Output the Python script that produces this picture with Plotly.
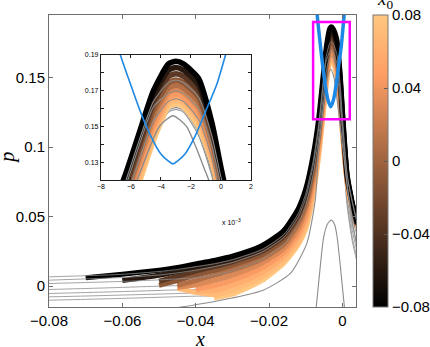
import plotly.graph_objects as go
from plotly.colors import sample_colorscale

# ---------------- data ----------------
X_GRID = [-0.080, -0.070, -0.060, -0.050, -0.045, -0.040, -0.035, -0.030, -0.022, -0.016,
          -0.012, -0.010, -0.008, -0.0065, -0.0055, -0.0045, -0.0035, -0.003, -0.0025,
          -0.0015, -0.0006, 0.0, 0.0013, 0.0027, 0.004]

# x0 value of each coloured trajectory
X0_VALUES = [-0.08, -0.06, -0.035, -0.01, 0.01, 0.03, 0.045, 0.06, 0.07, 0.08]

N = None
P_C1 = [N, 0.0060, 0.0085, 0.0115, 0.0135, 0.0160, 0.0185, 0.0215, 0.0290, 0.0400, 0.0560, 0.0700, 0.0940, 0.1200, 0.1450, 0.1700, 0.1850, 0.1865, 0.1850, 0.1770, 0.1520, 0.1270, 0.0800, 0.0600, 0.0450]
P_C2 = [N, N, 0.0040, 0.0078, 0.0105, 0.0135, 0.0163, 0.0195, 0.0270, 0.0378, 0.0533, 0.0672, 0.0905, 0.1165, 0.1415, 0.1665, 0.1815, 0.1830, 0.1815, 0.1735, 0.1495, 0.1250, 0.0790, 0.0595, 0.0447]
P_C3 = [N, N, N, 0.0035, 0.0072, 0.0108, 0.0140, 0.0175, 0.0250, 0.0357, 0.0510, 0.0645, 0.0875, 0.1135, 0.1385, 0.1630, 0.1780, 0.1795, 0.1780, 0.1700, 0.1470, 0.1230, 0.0780, 0.0590, 0.0445]
P_C4 = [N, N, N, 0.0005, 0.0040, 0.0078, 0.0112, 0.0150, 0.0225, 0.0330, 0.0480, 0.0615, 0.0845, 0.1105, 0.1350, 0.1595, 0.1745, 0.1760, 0.1745, 0.1665, 0.1440, 0.1205, 0.0775, 0.0585, 0.0443]
P_C5 = [N, N, N, N, 0.0005, 0.0040, 0.0078, 0.0115, 0.0195, 0.0300, 0.0450, 0.0580, 0.0810, 0.1075, 0.1320, 0.1565, 0.1715, 0.1730, 0.1715, 0.1635, 0.1410, 0.1180, 0.0770, 0.0580, 0.0440]
P_C6 = [N, N, N, N, -0.0010, 0.0010, 0.0042, 0.0080, 0.0165, 0.0270, 0.0415, 0.0545, 0.0775, 0.1045, 0.1290, 0.1535, 0.1690, 0.1705, 0.1690, 0.1605, 0.1385, 0.1160, 0.0765, 0.0570, 0.0435]
P_C7 = [N, N, N, N, N, -0.0020, 0.0005, 0.0042, 0.0130, 0.0240, 0.0380, 0.0505, 0.0735, 0.1010, 0.1255, 0.1500, 0.1665, 0.1680, 0.1665, 0.1575, 0.1360, 0.1140, 0.0760, 0.0565, 0.0432]
P_C8 = [N, N, N, N, N, -0.0035, -0.0030, 0.0005, 0.0095, 0.0210, 0.0350, 0.0470, 0.0700, 0.0980, 0.1225, 0.1470, 0.1645, 0.1660, 0.1645, 0.1550, 0.1335, 0.1125, 0.0755, 0.0560, 0.0428]
P_C9 = [N, N, N, N, -0.0015, -0.0045, -0.0062, -0.0030, 0.0065, 0.0185, 0.0320, 0.0440, 0.0670, 0.0950, 0.1195, 0.1445, 0.1630, 0.1645, 0.1630, 0.1525, 0.1315, 0.1110, 0.0750, 0.0555, 0.0425]
P_C10 = [N, N, N, N, N, N, -0.0085, -0.0058, 0.0040, 0.0165, 0.0300, 0.0410, 0.0650, 0.0930, 0.1170, 0.1420, 0.1610, 0.1625, 0.1610, 0.1500, 0.1300, 0.1100, 0.0745, 0.0550, 0.0420]
COLORED = [P_C1, P_C2, P_C3, P_C4, P_C5, P_C6, P_C7, P_C8, P_C9, P_C10]

# grey trajectories on the same grid
P_GA = [0.0067, 0.0075, 0.0085, 0.0105, 0.0120, 0.0140, 0.0160, 0.0190, 0.0262, 0.0370, 0.0525, 0.0665, 0.0895, 0.1160, 0.1410, 0.1640, 0.1745, 0.1760, 0.1745, 0.1665, 0.1445, 0.1215, 0.0800, 0.0610, 0.0460]
P_GB = [0.0043, 0.0052, 0.0062, 0.0080, 0.0095, 0.0115, 0.0140, 0.0170, 0.0245, 0.0350, 0.0500, 0.0635, 0.0865, 0.1130, 0.1380, 0.1610, 0.1685, 0.1700, 0.1685, 0.1600, 0.1390, 0.1170, 0.0790, 0.0600, 0.0455]
P_GC = [0.0019, 0.0026, 0.0034, 0.0045, 0.0052, 0.0060, 0.0080, 0.0110, 0.0190, 0.0300, 0.0450, 0.0580, 0.0800, 0.1060, 0.1300, 0.1530, 0.1640, 0.1655, 0.1640, 0.1540, 0.1320, 0.1100, 0.0720, 0.0500, 0.0360]
P_GD = [-0.0024, -0.0017, -0.0009, 0.0000, 0.0004, 0.0010, 0.0020, 0.0060, 0.0150, 0.0270, 0.0410, 0.0540, 0.0760, 0.1020, 0.1260, 0.1500, 0.1620, 0.1635, 0.1620, 0.1510, 0.1290, 0.1070, 0.0680, 0.0440, 0.0300]
P_GE = [-0.0053, -0.0046, -0.0039, -0.0031, -0.0027, -0.0023, -0.0015, 0.0020, 0.0110, 0.0230, 0.0370, 0.0490, 0.0720, 0.0990, 0.1230, 0.1470, 0.1600, 0.1615, 0.1600, 0.1490, 0.1260, 0.1040, 0.0640, 0.0400, 0.0250]
P_GF = [-0.0077, -0.0071, -0.0064, -0.0057, -0.0053, -0.0049, -0.0045, -0.0020, 0.0070, 0.0190, 0.0330, 0.0450, 0.0680, 0.0960, 0.1200, 0.1440, 0.1590, 0.1605, 0.1590, 0.1470, 0.1240, 0.1010, 0.0600, 0.0350, 0.0200]
P_GG = [-0.0101, -0.0095, -0.0088, -0.0080, -0.0076, -0.0072, -0.0070, -0.0050, 0.0040, 0.0170, 0.0310, 0.0420, 0.0650, 0.0930, 0.1170, 0.1410, 0.1580, 0.1595, 0.1580, 0.1450, 0.1220, 0.0990, 0.0570, 0.0320, 0.0170]
GREY_ON_GRID = [P_GA, P_GB, P_GC, P_GD, P_GE, P_GF, P_GG]

# lowest separate grey trajectory (peak ~0.156)
X_G1 = [-0.050, -0.0408, -0.030, -0.0216, -0.0142, -0.0097, -0.0074, -0.0065, -0.0054, -0.0041, -0.0032, -0.0023, -0.0010, 0.0003, 0.0014, 0.0026, 0.0040]
P_G1 = [-0.0175, -0.0137, -0.0085, -0.0029, 0.0091, 0.0308, 0.0620, 0.0980, 0.1240, 0.1500, 0.1560, 0.1500, 0.1240, 0.0950, 0.0700, 0.0480, 0.0280]

# small grey hump (peak ~0.047)
X_G0 = [-0.0074, -0.0065, -0.0051, -0.0040, -0.0030, -0.0021, -0.00145, -0.0001, 0.0008]
P_G0 = [-0.022, 0.002, 0.0355, 0.045, 0.0475, 0.044, 0.0355, 0.002, -0.022]

# blue curve
X_BLUE = [-0.0075, -0.0067, -0.0060, -0.0054, -0.0047, -0.0040, -0.0035, -0.0032, -0.0029, -0.0024, -0.0017, -0.0010, -0.0003, 0.0003, 0.0011]
P_BLUE = [0.215, 0.190, 0.173, 0.159, 0.145, 0.1345, 0.1305, 0.1290, 0.1305, 0.1345, 0.145, 0.159, 0.173, 0.190, 0.215]

# zoom window (magenta box / inset range)
ZOOM_X = [-0.008, 0.002]
ZOOM_Y = [0.12, 0.19]

# tick labels
MAIN_XTICKS = [-0.08, -0.06, -0.04, -0.02, 0.0]
MAIN_XTICKTEXT = ["\u22120.08", "\u22120.06", "\u22120.04", "\u22120.02", "0"]
MAIN_YTICKS = [0.0, 0.05, 0.1, 0.15]
MAIN_YTICKTEXT = ["0", "0.05", "0.1", "0.15"]
INSET_XTICKS = [-0.008, -0.006, -0.004, -0.002, 0.0, 0.002]
INSET_XTICKTEXT = ["\u22128", "\u22126", "\u22124", "\u22122", "0", "2"]
INSET_YTICKS = [0.12, 0.13, 0.14, 0.15, 0.16, 0.17, 0.18, 0.19]
INSET_YTICKTEXT = ["", "0.13", "", "0.15", "", "0.17", "", "0.19"]
CBAR_TICKS = [-0.08, -0.04, 0.0, 0.04, 0.08]
CBAR_TICKTEXT = ["\u22120.08", "\u22120.04", "0", "0.04", "0.08"]

# ---------------- styling ----------------
COPPER = [[0.0, "rgb(0,0,0)"], [0.8, "rgb(255,159,101)"], [1.0, "rgb(255,199,127)"]]
CMIN, CMAX = -0.08, 0.08
GREY = "rgb(140,140,140)"
BLUE = "rgb(30,136,229)"
FONT = "Liberation Sans, Arial, sans-serif"
SERIF = "Liberation Serif, Times New Roman, serif"


def clean(xs, ys):
    pts = [(a, b) for a, b in zip(xs, ys) if b is not None]
    return [p[0] for p in pts], [p[1] for p in pts]


fig = go.Figure()

for axes, cw, gw, bw in [(("x", "y"), 5.0, 0.8, 3.5), (("x2", "y2"), 5.5, 1.1, 1.6)]:
    xa, ya = axes
    # grey trajectories underneath
    for vals in GREY_ON_GRID[3:]:
        xs, ys = clean(X_GRID, vals)
        fig.add_trace(go.Scatter(x=xs, y=ys, mode="lines", xaxis=xa, yaxis=ya,
                                 line=dict(color=GREY, width=gw, shape="spline", smoothing=0.6),
                                 showlegend=False, hoverinfo="skip"))
    # coloured trajectories (lightest first, darkest on top)
    for vals, x0 in reversed(list(zip(COLORED, X0_VALUES))):
        t = (x0 - CMIN) / (CMAX - CMIN)
        col = sample_colorscale(COPPER, [t])[0]
        xs, ys = clean(X_GRID, vals)
        fig.add_trace(go.Scatter(x=xs, y=ys, mode="lines", xaxis=xa, yaxis=ya,
                                 line=dict(color=col, width=cw, shape="spline", smoothing=0.6),
                                 showlegend=False, hoverinfo="skip"))
    # grey trajectories visible through the band
    for vals in GREY_ON_GRID[:3]:
        xs, ys = clean(X_GRID, vals)
        fig.add_trace(go.Scatter(x=xs, y=ys, mode="lines", xaxis=xa, yaxis=ya,
                                 line=dict(color=GREY, width=gw, shape="spline", smoothing=0.6),
                                 showlegend=False, hoverinfo="skip"))
    fig.add_trace(go.Scatter(x=X_G1, y=P_G1, mode="lines", xaxis=xa, yaxis=ya,
                             line=dict(color=GREY, width=gw + 0.3, shape="spline", smoothing=0.6),
                             showlegend=False, hoverinfo="skip"))
    fig.add_trace(go.Scatter(x=X_G0, y=P_G0, mode="lines", xaxis=xa, yaxis=ya,
                             line=dict(color=GREY, width=gw + 0.3, shape="spline", smoothing=0.6),
                             showlegend=False, hoverinfo="skip"))
    fig.add_trace(go.Scatter(x=X_BLUE, y=P_BLUE, mode="lines", xaxis=xa, yaxis=ya,
                             line=dict(color=BLUE, width=bw, shape="spline", smoothing=0.6),
                             showlegend=False, hoverinfo="skip"))

# colour bar carrier
fig.add_trace(go.Scatter(x=[None], y=[None], mode="markers", showlegend=False, hoverinfo="skip",
                         marker=dict(color=X0_VALUES[:1], colorscale=COPPER, cmin=CMIN, cmax=CMAX,
                                     showscale=True,
                                     colorbar=dict(x=1.055, xanchor="left", y=0.5, yanchor="middle",
                                                   len=1.0, lenmode="fraction", thickness=15,
                                                   outlinecolor="rgb(120,120,120)", outlinewidth=1,
                                                   tickvals=CBAR_TICKS, ticktext=CBAR_TICKTEXT,
                                                   ticks="inside", ticklen=4, tickcolor="rgb(90,90,90)",
                                                   xpad=0, ypad=0,
                                                   tickfont=dict(size=15, color="black", family=FONT)))))

# magenta zoom box
fig.add_shape(type="rect", xref="x", yref="y", x0=ZOOM_X[0], x1=ZOOM_X[1], y0=ZOOM_Y[0], y1=ZOOM_Y[1],
              line=dict(color="rgb(255,0,255)", width=2.5))

axis_common = dict(showline=True, mirror="allticks", ticks="inside", showgrid=False, zeroline=False)

fig.update_layout(
    width=430, height=347,
    margin=dict(l=49, r=74, t=15, b=40, autoexpand=False),
    paper_bgcolor="white", plot_bgcolor="white",
    font=dict(family=FONT, color="black"),
    xaxis=dict(range=[-0.08, 0.0037], domain=[0, 1], tickvals=MAIN_XTICKS, ticktext=MAIN_XTICKTEXT,
               linecolor="rgb(110,110,110)", linewidth=1, ticklen=4, tickcolor="rgb(110,110,110)",
               tickfont=dict(size=15), **axis_common),
    yaxis=dict(range=[-0.015, 0.195], domain=[0, 1], tickvals=MAIN_YTICKS, ticktext=MAIN_YTICKTEXT,
               linecolor="rgb(110,110,110)", linewidth=1, ticklen=4, tickcolor="rgb(110,110,110)",
               tickfont=dict(size=15), **axis_common),
    xaxis2=dict(range=ZOOM_X, domain=[0.169, 0.658], anchor="y2", tickvals=INSET_XTICKS,
                ticktext=INSET_XTICKTEXT, linecolor="rgb(30,30,30)", linewidth=1, ticklen=3,
                tickcolor="rgb(30,30,30)", tickfont=dict(size=7), **axis_common),
    yaxis2=dict(range=ZOOM_Y, domain=[0.435, 0.863], anchor="x2", tickvals=INSET_YTICKS,
                ticktext=INSET_YTICKTEXT, linecolor="rgb(30,30,30)", linewidth=1, ticklen=3,
                tickcolor="rgb(30,30,30)", tickfont=dict(size=7), **axis_common),
    annotations=[
        dict(text="<i>x</i>", xref="paper", yref="paper", x=0.492, y=-0.11, showarrow=False,
             font=dict(family=SERIF, size=20), xanchor="center", yanchor="middle"),
        dict(text="<i>p</i>", xref="paper", yref="paper", x=-0.135, y=0.51, showarrow=False,
             textangle=-90, font=dict(family=SERIF, size=20), xanchor="center", yanchor="middle"),
        dict(text="<i>x</i><sub>0</sub>", xref="paper", yref="paper", x=1.095, y=1.05, showarrow=False,
             font=dict(family=SERIF, size=19), xanchor="center", yanchor="middle"),
        dict(text="x 10<sup>\u22123</sup>", xref="paper", yref="paper", x=0.593, y=0.29, showarrow=False,
             font=dict(size=7), xanchor="center", yanchor="middle"),
    ],
)

fig.write_html("out.html")
